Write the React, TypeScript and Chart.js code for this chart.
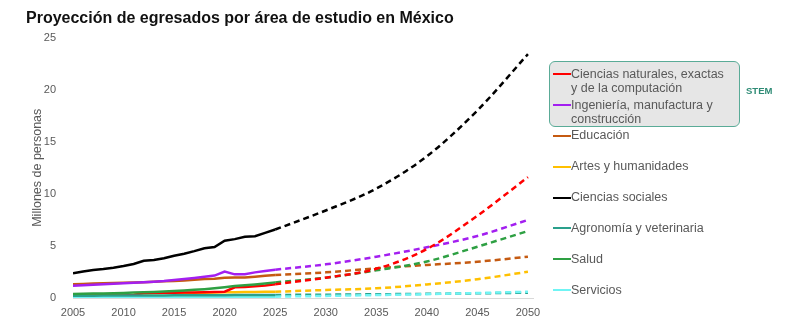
import React, { useEffect, useRef } from "react";
import { Chart, registerables } from "chart.js";

Chart.register(...registerables);

// ---------- data ----------
const historyYears = [
  2005, 2006, 2007, 2008, 2009, 2010, 2011, 2012, 2013, 2014, 2015,
  2016, 2017, 2018, 2019, 2020, 2021, 2022, 2023, 2024, 2025,
];
const projectionYears = [2025, 2030, 2035, 2040, 2045, 2050];
const xTickYears = [2005, 2010, 2015, 2020, 2025, 2030, 2035, 2040, 2045, 2050];
const yTickValues = [0, 5, 10, 15, 20, 25];

const chartTitle = "Proyección de egresados por área de estudio en México";
const yAxisTitle = "Millones de personas";
const stemLabel = "STEM";

// Ciencias naturales, exactas y de la computación
const naturalesHist = [0.22, 0.22, 0.22, 0.23, 0.23, 0.24, 0.3, 0.47, 0.5, 0.5, 0.5, 0.52, 0.53, 0.55, 0.57, 0.6, 1.03, 1.06, 1.12, 1.2, 1.31];
const naturalesProj = [1.31, 1.95, 2.8, 4.7, 7.9, 11.6];
// Ingeniería, manufactura y construcción
const ingenieriaHist = [1.18, 1.22, 1.27, 1.32, 1.37, 1.42, 1.47, 1.52, 1.57, 1.63, 1.73, 1.82, 1.93, 2.05, 2.15, 2.53, 2.27, 2.27, 2.46, 2.59, 2.72];
const ingenieriaProj = [2.72, 3.23, 3.96, 4.87, 5.95, 7.49];
// Educación
const educacionHist = [1.31, 1.35, 1.38, 1.41, 1.43, 1.46, 1.49, 1.52, 1.56, 1.6, 1.63, 1.68, 1.74, 1.82, 1.85, 1.95, 1.96, 1.97, 2.05, 2.14, 2.21];
const educacionProj = [2.21, 2.46, 2.85, 3.17, 3.48, 3.96];
// Artes y humanidades
const artesHist = [0.26, 0.26, 0.27, 0.27, 0.28, 0.28, 0.32, 0.44, 0.46, 0.47, 0.47, 0.48, 0.49, 0.5, 0.52, 0.54, 0.56, 0.57, 0.58, 0.59, 0.6];
const artesProj = [0.6, 0.77, 0.93, 1.3, 1.8, 2.52];
// Ciencias sociales
const socialesHist = [2.37, 2.55, 2.69, 2.78, 2.91, 3.07, 3.26, 3.58, 3.65, 3.81, 4.06, 4.25, 4.5, 4.78, 4.9, 5.5, 5.65, 5.87, 5.93, 6.25, 6.57];
const socialesProj = [6.57, 8.4, 10.5, 13.6, 18.0, 23.4];
// Agronomía y veterinaria
const agronomiaHist = [0.22, 0.22, 0.22, 0.23, 0.23, 0.24, 0.24, 0.25, 0.25, 0.25, 0.26, 0.26, 0.26, 0.27, 0.27, 0.27, 0.28, 0.28, 0.28, 0.29, 0.29];
const agronomiaProj = [0.29, 0.32, 0.36, 0.4, 0.45, 0.51];
// Salud
const saludHist = [0.38, 0.41, 0.43, 0.44, 0.46, 0.48, 0.52, 0.55, 0.58, 0.62, 0.67, 0.72, 0.78, 0.85, 0.93, 1.03, 1.15, 1.22, 1.3, 1.4, 1.5];
const saludProj = [1.5, 1.95, 2.65, 3.5, 4.92, 6.43];
// Servicios
const serviciosHist = [0.08, 0.08, 0.08, 0.09, 0.09, 0.09, 0.09, 0.1, 0.1, 0.1, 0.1, 0.1, 0.11, 0.11, 0.11, 0.11, 0.12, 0.12, 0.12, 0.13, 0.13];
const serviciosProj = [0.13, 0.2, 0.28, 0.37, 0.48, 0.6];

const legendNames = [
  ["Ciencias naturales, exactas", "y de la computación"],
  ["Ingeniería, manufactura y", "construcción"],
  ["Educación"],
  ["Artes y humanidades"],
  ["Ciencias sociales"],
  ["Agronomía y veterinaria"],
  ["Salud"],
  ["Servicios"],
];

// ---------- styles ----------
const seriesColors = ["#ff0000", "#a31ff0", "#c55a11", "#ffc000", "#000000", "#2aa08c", "#2ea043", "#70f4f4"];
const FONT = "'Liberation Sans', Arial, Helvetica, sans-serif";
const TEXT_GRAY = "#595959";

const histSeries = [naturalesHist, ingenieriaHist, educacionHist, artesHist, socialesHist, agronomiaHist, saludHist, serviciosHist];
const projSeries = [naturalesProj, ingenieriaProj, educacionProj, artesProj, socialesProj, agronomiaProj, saludProj, serviciosProj];
// drawing priority (lower = on top)
const histOrder = [8, 2, 4, 9, 0, 6, 3, 7];
const projOrder = [1, 2, 4, 5, 0, 7, 3, 6];

const legendTops = [74, 105, 135.7, 166.7, 197.7, 228.3, 259, 290];

export default function App() {
  const canvasRef = useRef<HTMLCanvasElement | null>(null);

  useEffect(() => {
    if (!canvasRef.current) return;
    const datasets: any[] = [];
    histSeries.forEach((vals, i) => {
      datasets.push({
        label: legendNames[i].join(" "),
        data: historyYears.map((yr, k) => ({ x: yr, y: vals[k] })),
        borderColor: seriesColors[i],
        backgroundColor: seriesColors[i],
        borderWidth: 2.5,
        pointRadius: 0,
        tension: 0,
        order: histOrder[i],
      });
      datasets.push({
        label: legendNames[i].join(" ") + " (proyección)",
        data: projectionYears.map((yr, k) => ({ x: yr, y: projSeries[i][k] })),
        borderColor: seriesColors[i],
        backgroundColor: seriesColors[i],
        borderWidth: 2.5,
        borderDash: [6, 4],
        pointRadius: 0,
        cubicInterpolationMode: "monotone",
        order: projOrder[i],
      });
    });

    const chart = new Chart(canvasRef.current, {
      type: "line",
      data: { datasets },
      options: {
        animation: false,
        responsive: false,
        maintainAspectRatio: false,
        layout: { padding: { top: 37.5, right: 267, left: 0, bottom: 0 } },
        plugins: { legend: { display: false }, tooltip: { enabled: false }, title: { display: false } },
        scales: {
          x: {
            type: "linear",
            min: 2005,
            max: 2050.5,
            afterBuildTicks: (s: any) => {
              s.ticks = xTickYears.map((v) => ({ value: v }));
            },
            afterFit: (s: any) => {
              s.height = 38;
            },
            grid: { display: false, drawTicks: false },
            border: { display: true, color: "#d9d9d9", width: 1 },
            ticks: {
              color: TEXT_GRAY,
              font: { family: FONT, size: 11 },
              padding: 8,
              maxRotation: 0,
              autoSkip: false,
              callback: (v: any) => String(v),
            },
          },
          y: {
            min: 0,
            max: 25,
            afterBuildTicks: (s: any) => {
              s.ticks = yTickValues.map((v) => ({ value: v }));
            },
            afterFit: (s: any) => {
              s.width = 73;
            },
            grid: { display: false, drawTicks: false },
            border: { display: false },
            ticks: {
              color: TEXT_GRAY,
              font: { family: FONT, size: 11 },
              padding: 17,
              callback: (v: any) => String(v),
            },
            title: {
              display: true,
              text: yAxisTitle,
              color: TEXT_GRAY,
              font: { family: FONT, size: 12.5 },
              padding: { top: 30, bottom: 0 },
            },
          },
        },
      },
    });
    return () => chart.destroy();
  }, []);

  return (
    <div style={{ position: "fixed", left: 0, top: 0, width: 800, height: 336, background: "#fff", fontFamily: FONT }}>
      <canvas ref={canvasRef} width={800} height={336} style={{ position: "absolute", left: 0, top: 0, display: "block" }} />
      <div
        style={{
          position: "absolute",
          left: 26,
          top: 8.5,
          fontSize: 16,
          fontWeight: "bold",
          color: "#111",
          lineHeight: "18px",
          whiteSpace: "nowrap",
        }}
      >
        {chartTitle}
      </div>
      <div
        style={{
          position: "absolute",
          left: 548.5,
          top: 61,
          width: 191.5,
          height: 65.7,
          boxSizing: "border-box",
          border: "1.5px solid #5aab97",
          borderRadius: 6,
          background: "#e6e6e6",
        }}
      />
      <div
        style={{
          position: "absolute",
          left: 746,
          top: 85,
          fontSize: 9.5,
          fontWeight: "bold",
          color: "#2e8b75",
          lineHeight: "12px",
        }}
      >
        {stemLabel}
      </div>
      {legendNames.map((lines, i) => (
        <div key={i}>
          <div
            style={{
              position: "absolute",
              left: 553,
              top: legendTops[i] - 1,
              width: 18,
              height: 2,
              background: seriesColors[i],
            }}
          />
          <div
            style={{
              position: "absolute",
              left: 571,
              top: legendTops[i] - 7.4,
              fontSize: 12.5,
              lineHeight: "14.5px",
              color: TEXT_GRAY,
              whiteSpace: "nowrap",
            }}
          >
            {lines.map((t, k) => (
              <div key={k}>{t}</div>
            ))}
          </div>
        </div>
      ))}
    </div>
  );
}
